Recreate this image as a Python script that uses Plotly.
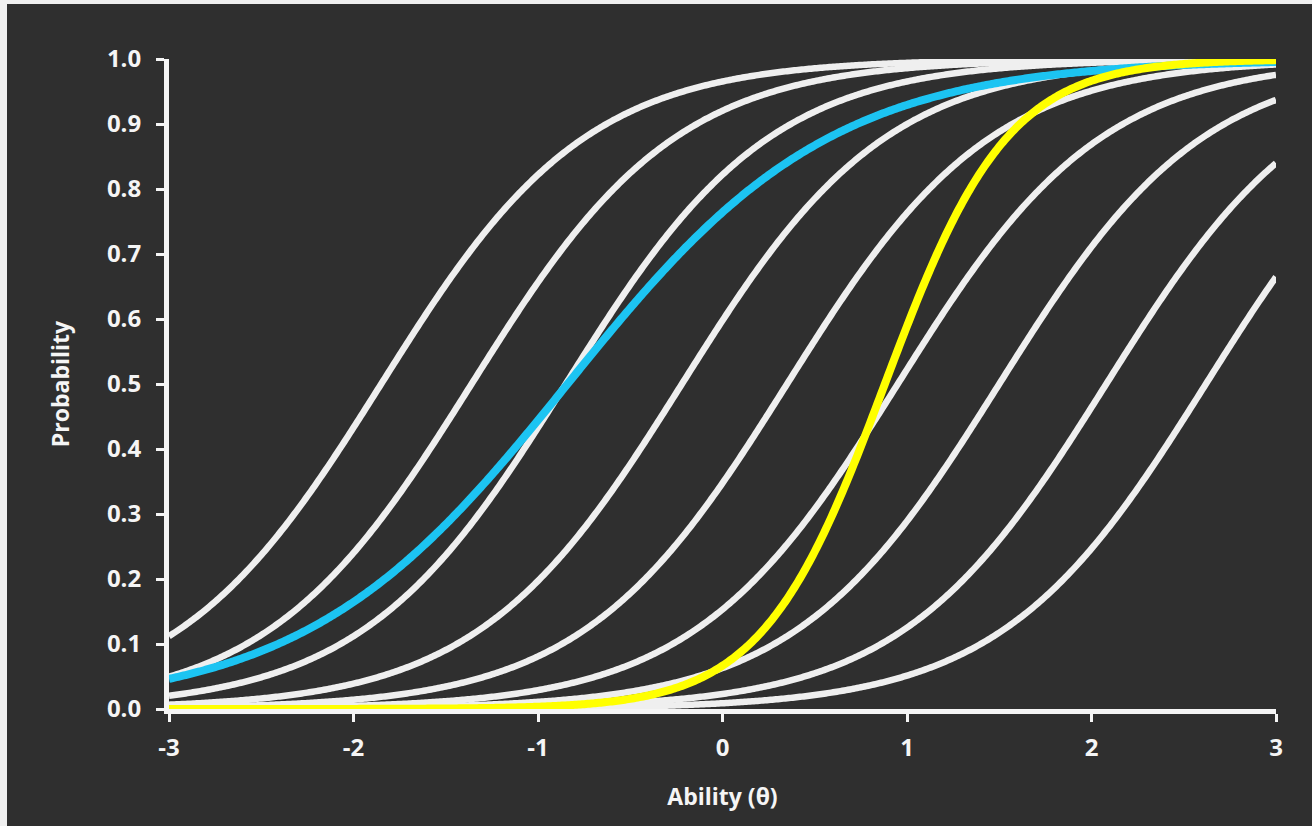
import numpy as np
import plotly.graph_objects as go

# Item characteristic curves: P(theta) = 1 / (1 + exp(-a (theta - b)))
white_b = [-1.85, -1.36, -0.85, -0.22, 0.35, 0.95, 1.50, 2.08, 2.62]
white_a = [1.8, 1.8, 1.8, 1.8, 1.8, 1.8, 1.8, 1.8, 1.8]
cyan_item = {"a": 1.4, "b": -0.84}
yellow_item = {"a": 3.0, "b": 0.88}

x_ticks = [-3, -2, -1, 0, 1, 2, 3]
y_ticks = [0.0, 0.1, 0.2, 0.3, 0.4, 0.5, 0.6, 0.7, 0.8, 0.9, 1.0]
y_tick_text = [f"{v:.1f}" for v in y_ticks]

theta = np.linspace(-3, 3, 601)


def icc(a, b):
    return 1.0 / (1.0 + np.exp(-a * (theta - b)))


BG = "#2f2f2f"
INK = "#f5f5f5"
FONT = "Open Sans"


def curve(y, color, width):
    return go.Scatter(
        x=theta, y=y, mode="lines",
        line=dict(color=color, width=width, simplify=False),
        hoverinfo="skip", showlegend=False, cliponaxis=False,
    )


fig = go.Figure()
for a, b in zip(white_a, white_b):
    fig.add_trace(curve(icc(a, b), "#efefef", 6.5))
fig.add_trace(curve(icc(cyan_item["a"], cyan_item["b"]), "#1cc4f2", 8))
fig.add_trace(curve(icc(yellow_item["a"], yellow_item["b"]), "#ffff00", 8))

W, H = 1312, 826
L, R, T, B = 169, 36, 59, 117
pw, ph = W - L - R, H - T - B

# dark canvas leaving a thin light strip along the top and left edges
fig.add_shape(
    type="rect", xref="paper", yref="paper", layer="below",
    x0=(7 - L) / pw, x1=(W - L) / pw,
    y0=-B / ph, y1=(H - B - 4) / ph,
    line=dict(width=0), fillcolor=BG,
)

fig.update_layout(
    width=W, height=H,
    margin=dict(l=L, r=R, t=T, b=B, pad=0),
    paper_bgcolor="#f0f0f0",
    plot_bgcolor=BG,
    showlegend=False,
    font=dict(family=FONT, color=INK),
)

tick_font = dict(family=FONT, size=24, color=INK, weight="bold")
title_font = dict(family=FONT, size=23, color=INK, weight="bold")

fig.update_xaxes(
    range=[-3, 3], tickvals=x_ticks, ticktext=[str(v) for v in x_ticks],
    showgrid=False, zeroline=False,
    showline=True, linecolor=INK, linewidth=5,
    ticks="outside", ticklen=8, tickwidth=3, tickcolor=INK,
    tickfont=tick_font, ticklabelstandoff=5,
    title=dict(text="Ability (θ)", font=title_font, standoff=29),
    layer="below traces",
)
fig.update_yaxes(
    range=[0, 1], tickvals=y_ticks, ticktext=y_tick_text,
    showgrid=False, zeroline=False,
    showline=True, linecolor=INK, linewidth=5,
    ticks="outside", ticklen=8, tickwidth=3, tickcolor=INK,
    tickfont=tick_font, ticklabelstandoff=10,
    title=dict(text="Probability", font=title_font, standoff=32),
    layer="below traces",
)

fig.write_html("out.html")
